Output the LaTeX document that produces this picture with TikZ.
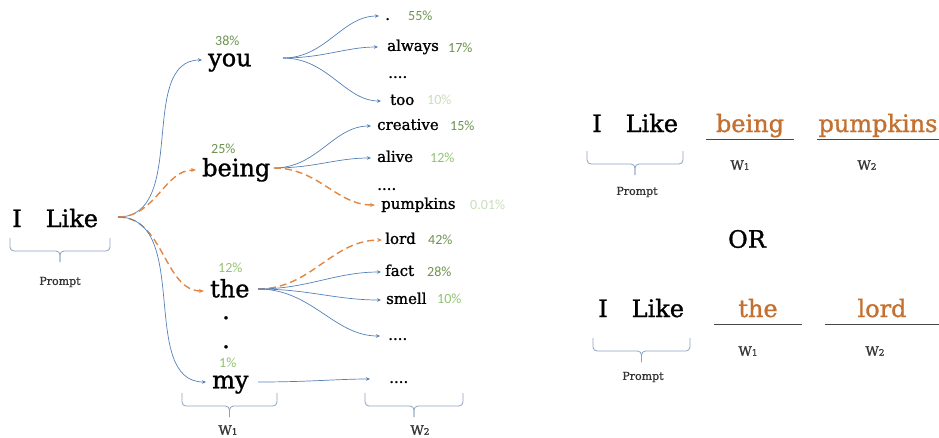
\documentclass[tikz,border=0pt]{standalone}
\usepackage{fontspec}
\setmainfont{DejaVu Serif}
\newfontfamily\slabfont{DejaVu Serif}[FakeBold=1.2]
\newfontfamily\pctfont{Carlito}
\usepackage{xcolor}
\definecolor{arrowblue}{RGB}{84,128,186}
\definecolor{dashorange}{RGB}{226,135,67}
\definecolor{wordorange}{RGB}{196,112,48}
\definecolor{bracegray}{RGB}{140,162,192}
\definecolor{pctdark}{RGB}{108,146,78}
\definecolor{pctmid}{RGB}{146,192,114}
\definecolor{pctpale}{RGB}{200,222,186}
\definecolor{linegray}{RGB}{70,70,70}
\usetikzlibrary{arrows.meta,positioning}
\tikzset{
  bigword/.style={font=\slabfont\fontsize{24}{28}\selectfont,inner sep=0pt,
    text height=12.5pt,text depth=0pt,anchor=west,text=black},
  word/.style={font=\slabfont\fontsize{15}{18}\selectfont,inner sep=0pt,
    text height=7.8pt,text depth=0pt,anchor=west,text=black},
  pct/.style={font=\pctfont\fontsize{14}{16}\selectfont,inner sep=0pt,
    text height=8.8pt,text depth=0pt,anchor=west},
  bluearrow/.style={-{Stealth[length=4pt,width=3.5pt]},arrowblue,
    line width=0.7pt,shorten >=6pt},
  orangearrow/.style={-{Stealth[length=5pt,width=4pt]},dashorange,
    line width=1.4pt,dash pattern=on 7pt off 4pt,shorten >=6pt},
  tagline/.style={bracegray,line width=0.8pt,rounded corners=4pt},
  pics/tagbr/.style={code={
    \draw[tagline] (-#1,0) -- (-#1,13) -- (0,13) -- (0,24);
    \draw[tagline] (#1,0) -- (#1,13) -- (0,13) -- (0,24);
  }},
  tag/.style={font=\slabfont\fontsize{11}{13}\selectfont,text=black!80,inner sep=0pt},
  slot/.style={font=\slabfont\fontsize{24}{28}\selectfont,text=wordorange,inner sep=0pt,
    text depth=7pt,anchor=base},
  slotline/.style={linegray,line width=1.4pt},
}
\newcommand{\wlab}[1]{{\fontsize{13}{15}\selectfont W}{\fontsize{9}{10}\selectfont #1}}

\begin{document}
\begin{tikzpicture}[x=1pt,y=-1pt]
  \useasboundingbox (0,0) rectangle (939,437);
  % Prompt
  \node[bigword,anchor=base west] (ilike) at (12,227) {I\hspace{24pt}Like};
  \pic (promptbr) at (60,238) {tagbr=50};
  \node[tag] (prompt) at (60,282) {Prompt};
  \coordinate (ilikefork) at (118,217);
  % First word W1
  \node[bigword] (you) at (208,60) {you};
  \node[bigword] (being) at (202,170) {being};
  \node[bigword] (the) at (210,291) {the};
  \node[bigword] (my) at (212,382) {my};
  \node[bigword,anchor=base] (dotA) at (226,319) {.};
  \node[bigword,anchor=base] (dotB) at (226,348) {.};
  \node[pct,pctdark] (pyou) at (215,41) {38\%};
  \node[pct,pctdark] (pbeing) at (211,149) {25\%};
  \node[pct,pctmid] (pthe) at (218,268) {12\%};
  \node[pct,pctmid] (pmy) at (219,363) {1\%};
  % W1 brace
  \pic (wonebr) at (229.5,393) {tagbr=47.5};
  \node[tag] (wone) at (228,430) {\wlab{1}};
  % Arrows to W1
  \draw[bluearrow] (ilikefork) to[out=0,in=180] (you.west);
  \draw[orangearrow] (ilikefork) to[out=0,in=180] (being.west);
  \draw[orangearrow] (ilikefork) to[out=0,in=180] (the.west);
  \draw[bluearrow] (ilikefork) to[out=0,in=180] (my.west);
  % Second word W2 after you
  \coordinate (youfork) at (283,58);
  \node[word] (stop) at (385,16) {.};
  \node[word] (always) at (387,47) {always};
  \node[word] (youdots) at (388,74) {....};
  \node[word] (too) at (390,101) {too};
  \node[pct,pctdark] (pstop) at (408,16) {55\%};
  \node[pct,pctdark] (palways) at (448,48) {17\%};
  \node[pct,pctpale] (ptoo) at (427,100) {10\%};
  \draw[bluearrow] (youfork) to[out=0,in=180] (stop.west);
  \draw[bluearrow,shorten >=9pt] (youfork) to[out=0,in=180] (always.west);
  \draw[bluearrow,shorten >=9pt] (youfork) to[out=0,in=180] (too.west);
  % Second word W2 after being
  \coordinate (beingfork) at (274,168);
  \node[word] (creative) at (377,126) {creative};
  \node[word] (alive) at (377,158) {alive};
  \node[word] (beingdots) at (377,186) {....};
  \node[word] (pumpkins) at (381,205) {pumpkins};
  \node[pct,pctdark] (pcreative) at (450,126) {15\%};
  \node[pct,pctmid] (palive) at (430,158) {12\%};
  \node[pct,pctpale] (ppumpkins) at (470,205) {0.01\%};
  \draw[bluearrow] (beingfork) to[out=0,in=180] (creative.west);
  \draw[bluearrow] (beingfork) to[out=0,in=180] (alive.west);
  \draw[orangearrow] (beingfork) to[out=0,in=180] (pumpkins.west);
  % Second word W2 after the
  \coordinate (thefork) at (258,289);
  \node[word] (lord) at (385,240) {lord};
  \node[word] (fact) at (385,272) {fact};
  \node[word] (smell) at (386,300) {smell};
  \node[word] (thedots) at (388,336) {....};
  \node[pct,pctdark] (plord) at (428,240) {42\%};
  \node[pct,pctdark] (pfact) at (427,272) {28\%};
  \node[pct,pctmid] (psmell) at (437,299) {10\%};
  \draw[orangearrow,shorten >=3pt] (thefork) to[out=0,in=180] (lord.west);
  \draw[bluearrow,shorten >=4pt] (thefork) to[out=0,in=180] (fact.west);
  \draw[bluearrow,shorten >=5pt] (thefork) to[out=0,in=180] (smell.west);
  \draw[bluearrow,shorten >=8pt] (thefork) to[out=0,in=180] (thedots.west);
  % Second word W2 after my
  \coordinate (myfork) at (258,382);
  \node[word] (mydots) at (389,379) {....};
  \draw[bluearrow,shorten >=19pt] (myfork) to[out=0,in=180] (mydots.west);
  % W2 brace
  \pic (wtwobr) at (414,393) {tagbr=49};
  \node[tag] (wtwo) at (420,430) {\wlab{2}};

  % Sentence one
  \node[bigword,anchor=base west] (ilikeA) at (592,132) {I\hspace{24pt}Like};
  \node[slot,minimum width=87pt] (slotAone) at (750,132) {being};
  \node[slot,minimum width=121pt] (slotAtwo) at (878,132) {pumpkins};
  \draw[slotline] (slotAone.south west) -- (slotAone.south east);
  \draw[slotline] (slotAtwo.south west) -- (slotAtwo.south east);
  \pic (promptAbr) at (635,151) {tagbr=48};
  \node[tag] (promptA) at (637,192) {Prompt};
  \node[tag] (wAone) at (740,165) {\wlab{1}};
  \node[tag] (wAtwo) at (867,165) {\wlab{2}};
  % OR
  \node[font=\slabfont\fontsize{24}{28}\selectfont,inner sep=0pt] (or) at (747,239) {OR};
  % Sentence two
  \node[bigword,anchor=base west] (ilikeB) at (598,317) {I\hspace{24pt}Like};
  \node[slot,minimum width=87pt] (slotBone) at (758,317) {the};
  \node[slot,minimum width=113pt] (slotBtwo) at (882,317) {lord};
  \draw[slotline] (slotBone.south west) -- (slotBone.south east);
  \draw[slotline] (slotBtwo.south west) -- (slotBtwo.south east);
  \pic (promptBbr) at (641.5,338) {tagbr=48.5};
  \node[tag] (promptB) at (643,377) {Prompt};
  \node[tag] (wBone) at (748,351) {\wlab{1}};
  \node[tag] (wBtwo) at (875,351) {\wlab{2}};
\end{tikzpicture}
\end{document}
